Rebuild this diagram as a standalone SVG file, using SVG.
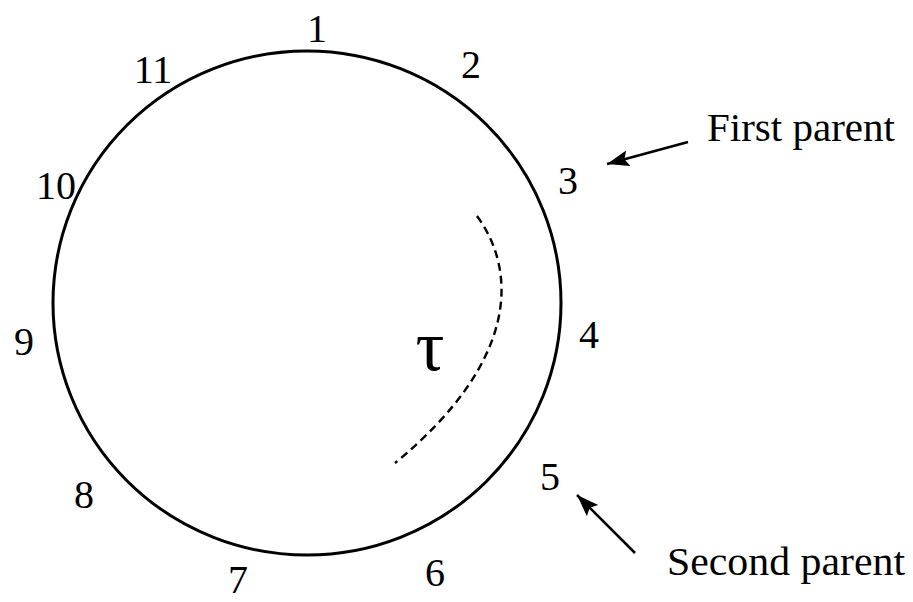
<svg xmlns="http://www.w3.org/2000/svg" width="913" height="602" viewBox="0 0 913 602">
  <style>
    .lbl { font-family: "Liberation Serif", "Times New Roman", serif; font-size: 40px; fill: #000; text-anchor: middle; }
    .txt { font-family: "Liberation Serif", "Times New Roman", serif; font-size: 40px; fill: #000; }
    .sym { font-family: "Liberation Serif", "Times New Roman", serif; font-size: 72px; fill: #000; text-anchor: middle; }
    .ring { fill: none; stroke: #000; stroke-width: 3; }
    .dash { fill: none; stroke: #000; stroke-width: 2.4; stroke-dasharray: 8 5; }
    .arrow { fill: none; stroke: #000; stroke-width: 2.5; marker-end: url(#head); }
  </style>
  <defs>
    <marker id="head" markerUnits="userSpaceOnUse" markerWidth="24" markerHeight="18" refX="22" refY="8" orient="auto">
      <path d="M0,0 L22,8 L0,16 L4,8 z" fill="#000"/>
    </marker>
  </defs>
  <rect width="913" height="602" fill="#fff"/>

  <g id="ring">
    <ellipse class="ring" cx="307" cy="303" rx="254" ry="252"/>
  </g>

  <g id="positions">
    <g id="p1"><text class="lbl" x="317" y="42">1</text></g>
    <g id="p2"><text class="lbl" x="471" y="78">2</text></g>
    <g id="p3"><text class="lbl" x="568" y="194">3</text></g>
    <g id="p4"><text class="lbl" x="589" y="348">4</text></g>
    <g id="p5"><text class="lbl" x="550" y="490">5</text></g>
    <g id="p6"><text class="lbl" x="435" y="586">6</text></g>
    <g id="p7"><text class="lbl" x="238" y="593">7</text></g>
    <g id="p8"><text class="lbl" x="84" y="508">8</text></g>
    <g id="p9"><text class="lbl" x="24" y="355">9</text></g>
    <g id="p10"><text class="lbl" x="56" y="199">10</text></g>
    <g id="p11"><text class="lbl" x="153" y="83">11</text></g>
  </g>

  <g id="tau">
    <path class="dash" d="M477,216 C518,272 518,362 395,463"/>
    <text class="sym" x="430" y="370">τ</text>
  </g>

  <g id="first-parent">
    <text class="txt" x="707" y="141" textLength="188" lengthAdjust="spacingAndGlyphs">First parent</text>
  </g>
  <g id="second-parent">
    <text class="txt" x="667" y="575" textLength="238" lengthAdjust="spacingAndGlyphs">Second parent</text>
  </g>

  <g id="connectors">
    <line class="arrow" x1="688" y1="142" x2="607" y2="164"/>
    <line class="arrow" x1="635" y1="553" x2="577" y2="495"/>
  </g>
</svg>
